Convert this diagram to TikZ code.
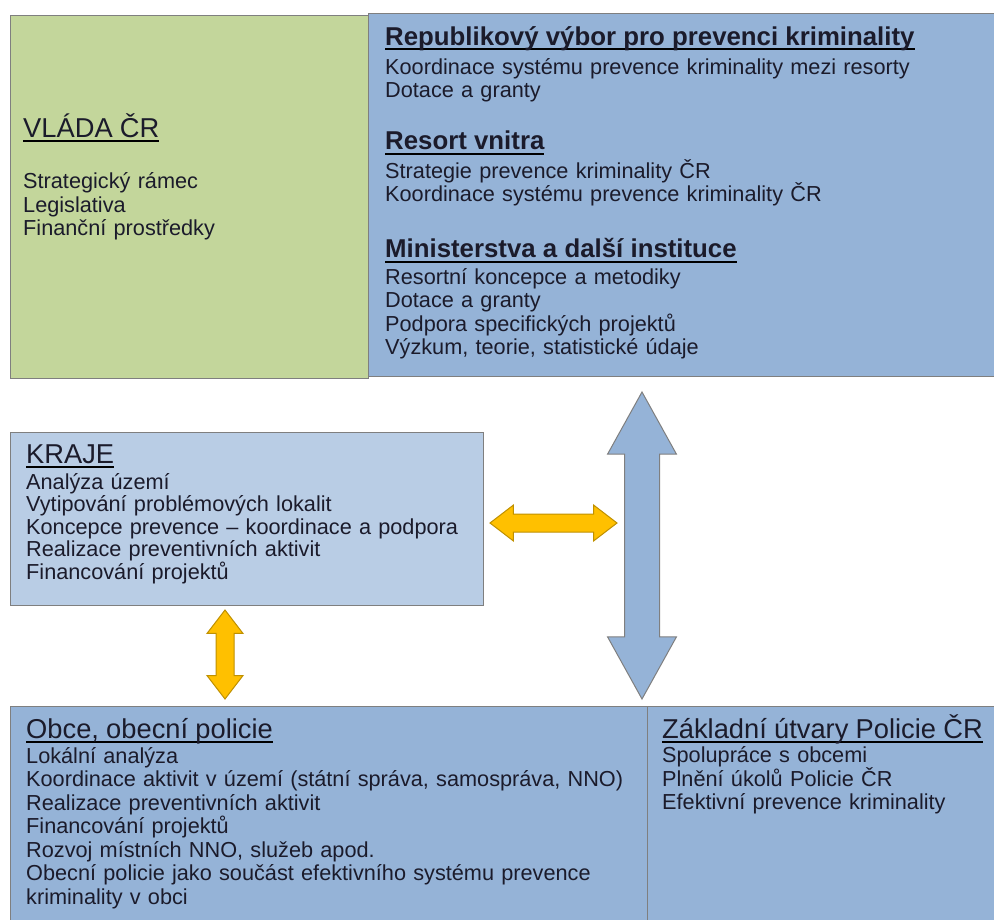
\documentclass[tikz,border=0pt]{standalone}
\usepackage{fontspec}
\setmainfont{Liberation Sans}
\usetikzlibrary{shapes.arrows,positioning}

\definecolor{vladagreen}{HTML}{C3D69B}
\definecolor{boxblue}{HTML}{95B3D7}
\definecolor{krajblue}{HTML}{B9CDE5}
\definecolor{framegray}{HTML}{7F7F7F}
\definecolor{linkyellow}{HTML}{FFC000}
\definecolor{linkedge}{HTML}{BF9000}
\definecolor{inkdark}{HTML}{1B1B2B}

\lineskiplimit=-100pt
\newcommand{\undl}[1]{\leavevmode\setbox0\hbox{#1}\rlap{\color{black}\vrule height -3.4pt depth 5pt width \wd0}\box0}
\newcommand{\boldhead}[1]{{\fontsize{25.8}{23}\selectfont\bfseries\undl{#1}}}
\newcommand{\plainhead}[1]{{\fontsize{27.3}{23}\selectfont\undl{#1}}}

\begin{document}
\begin{tikzpicture}[
    x=1pt, y=-1pt,
    panel/.style={rectangle, draw=framegray, line width=1.2pt, anchor=north west, inner sep=0pt},
    paneltext/.style={anchor=base west, align=left, inner sep=0pt, text=inkdark,
        font=\fontsize{21.7}{23.5}\selectfont},
    tightlines/.style={font=\fontsize{21.7}{22.5}\selectfont},
    yellowlink/.style={double arrow, draw=linkedge, fill=linkyellow, line width=1pt,
        inner sep=0pt, inner ysep=8.5pt, double arrow head extend=9pt, double arrow tip angle=75},
    bluelink/.style={double arrow, draw=framegray, fill=boxblue, line width=1pt,
        inner sep=0pt, inner ysep=17pt, double arrow head extend=17pt, double arrow tip angle=58}
]
\useasboundingbox (0,0) rectangle (994,919);

% horni patro
\node[panel, fill=vladagreen, minimum width=358pt, minimum height=363pt] (vlada) at (10,15) {};
\node[panel, fill=boxblue, minimum width=640pt, minimum height=363pt] (resorty) at (368,13) {};

\node[paneltext, text width=340pt] (vladatext) at (23,137) {%
    \plainhead{VLÁDA ČR}\\[28pt]
    Strategický rámec\\
    Legislativa\\
    Finanční prostředky};

\node[paneltext, text width=600pt] (resortytext) at (385,45) {%
    \boldhead{Republikový výbor pro prevenci kriminality}\\[5.5pt]
    Koordinace systému prevence kriminality mezi resorty\\
    Dotace a granty\\[28.5pt]
    \boldhead{Resort vnitra}\\[4pt]
    Strategie prevence kriminality ČR\\
    Koordinace systému prevence kriminality ČR\\[31pt]
    \boldhead{Ministerstva a další instituce}\\[3pt]
    Resortní koncepce a metodiky\\
    Dotace a granty\\
    Podpora specifických projektů\\
    Výzkum, teorie, statistické údaje};

% kraje
\node[panel, fill=krajblue, minimum width=473pt, minimum height=173pt] (kraje) at (10,432) {};
\node[paneltext, tightlines, text width=455pt] (krajetext) at (26,463) {%
    \plainhead{KRAJE}\\[3.5pt]
    Analýza území\\
    Vytipování problémových lokalit\\
    Koncepce prevence – koordinace a podpora\\
    Realizace preventivních aktivit\\
    Financování projektů};

% spodni patro
\node[panel, fill=boxblue, minimum width=637pt, minimum height=230pt] (obce) at (10,706) {};
\node[panel, fill=boxblue, minimum width=360pt, minimum height=230pt] (policie) at (647,706) {};

\node[paneltext, text width=625pt] (obcetext) at (26,738) {%
    \plainhead{Obce, obecní policie}\\[1.5pt]
    Lokální analýza\\
    Koordinace aktivit v území (státní správa, samospráva, NNO)\\
    Realizace preventivních aktivit\\
    Financování projektů\\
    Rozvoj místních NNO, služeb apod.\\
    Obecní policie jako součást efektivního systému prevence\\
    kriminality v obci};

\node[paneltext, tightlines, text width=330pt] (policietext) at (662,738) {%
    \plainhead{Základní útvary Policie ČR}\\[2pt]
    Spolupráce s obcemi\\
    Plnění úkolů Policie ČR\\
    Efektivní prevence kriminality};

% sipky
\node[yellowlink, minimum height=127pt] (krajlink) at (553.5,523) {};
\node[yellowlink, minimum height=89pt, rotate=90] (obeclink) at (225,654.5) {};
\node[bluelink, minimum height=307pt, rotate=90] (statlink) at (642,545.5) {};

\end{tikzpicture}
\end{document}
